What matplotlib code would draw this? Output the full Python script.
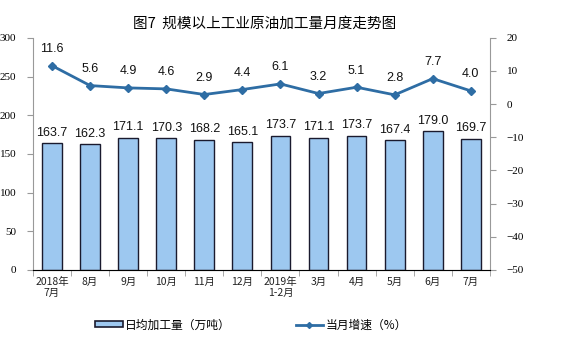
import numpy as np
import matplotlib
matplotlib.use("Agg")
import matplotlib.pyplot as plt
from matplotlib.lines import Line2D
from matplotlib.patches import Patch

plt.rcParams['font.family'] = ['Noto Sans CJK SC', 'DejaVu Sans']

# データ
months = ["2018年\n7月", "8月", "9月", "10月", "11月", "12月", "2019年\n1-2月",
          "3月", "4月", "5月", "6月", "7月"]
daily_output = [163.7, 162.3, 171.1, 170.3, 168.2, 165.1, 173.7, 171.1, 173.7, 167.4, 179.0, 169.7]
growth = [11.6, 5.6, 4.9, 4.6, 2.9, 4.4, 6.1, 3.2, 5.1, 2.8, 7.7, 4.0]

bar_color = "#9DC8F0"
bar_edge = "#1A1A2E"
line_color = "#2E6DA4"
tick_font = ['Liberation Serif', 'Noto Sans CJK SC']

fig = plt.figure(figsize=(5.64, 3.57), dpi=100)
ax1 = fig.add_axes([0.0585, 0.244, 0.81, 0.650])
ax2 = ax1.twinx()

x = np.arange(len(months))
ax1.bar(x, daily_output, width=0.52, color=bar_color, edgecolor=bar_edge, linewidth=1.0, zorder=2)
for xi, v in zip(x, daily_output):
    ax1.text(xi, v + 6, f"{v:.1f}", ha="center", va="bottom", fontsize=9,
             family=['Liberation Sans'], color="#111111")

ax2.plot(x, growth, color=line_color, linewidth=2, marker="D", markersize=4, zorder=3)
for xi, v in zip(x, growth):
    ax2.text(xi, v + 3.2, f"{v:.1f}", ha="center", va="bottom", fontsize=9,
             family=['Liberation Sans'], color="#111111")

ax1.set_xlim(-0.5, len(months) - 0.5)
ax1.set_ylim(0, 300)
ax1.set_yticks(np.arange(0, 301, 50))
ax2.set_ylim(-50, 20)
ax2.set_yticks(np.arange(-50, 21, 10))

# 軸の見た目
for ax in (ax1, ax2):
    ax.spines["top"].set_visible(False)
ax2.spines["left"].set_visible(False)
ax1.spines["right"].set_visible(False)
ax1.spines["left"].set_color("#999999")
ax2.spines["right"].set_color("#999999")
ax1.spines["bottom"].set_color("#999999")

ax1.set_xticks(x)
ax1.set_xticklabels(months, fontsize=7.5, color="#222222", linespacing=1.15)
ax1.set_xticks(np.arange(-0.5, len(months), 1), minor=True)
ax1.tick_params(axis="x", which="major", length=0, pad=5)
ax1.tick_params(axis="x", which="minor", length=4, color="#999999")
ax1.tick_params(axis="y", labelsize=8, length=4, color="#999999", pad=8)
ax2.tick_params(axis="y", labelsize=8, length=4, color="#999999", pad=8)
for lab in ax1.get_yticklabels() + ax2.get_yticklabels():
    lab.set_family(tick_font)

fig.text(0.47, 0.935, "图7  规模以上工业原油加工量月度走势图", ha="center", va="center", fontsize=10.5)

handles = [Patch(facecolor=bar_color, edgecolor=bar_edge, linewidth=1.2),
           Line2D([0], [0], color=line_color, linewidth=2, marker="D", markersize=3)]
fig.legend(handles, ["日均加工量（万吨）", "当月增速（%）"], loc="center",
           bbox_to_anchor=(0.445, 0.09), ncol=2, frameon=False, fontsize=8.5,
           columnspacing=5.5, handlelength=2.3, handleheight=0.45, handletextpad=0.2)

fig.savefig("out.png", dpi=100)
plt.close(fig)
